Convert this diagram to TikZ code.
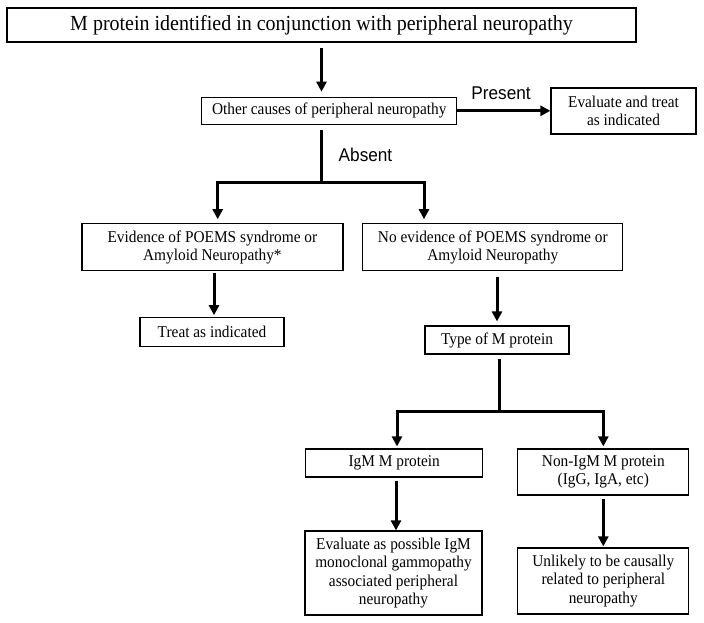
\documentclass[tikz,border=0pt]{standalone}
\usepackage{fontspec}
\setmainfont[FakeStretch=0.93]{Liberation Serif}
\setsansfont[FakeStretch=0.93]{Liberation Sans}
\usetikzlibrary{arrows.meta}
\tikzset{
	box/.style={draw,line width=1.2pt,inner sep=0pt,align=center,font=\fontsize{16.5}{18.3}\selectfont},
	trunk/.style={line width=3pt},
	arr/.style={trunk,-{Triangle[length=10pt,width=10pt]}},
	lbl/.style={inner sep=0pt,font=\sffamily\fontsize{18.5}{20}\selectfont}
}
\begin{document}
\begin{tikzpicture}[x=1pt,y=-1pt]
	\useasboundingbox (0,0) rectangle (704,623);
	\node[box,minimum width=629,minimum height=34,font=\fontsize{21.5}{24}\selectfont] (mprot) at (321.5,25) {M protein identified in conjunction with peripheral neuropathy};
	\node[box,minimum width=255,minimum height=27] (other) at (329.3,110.8) {Other causes of peripheral neuropathy};
	\node[box,minimum width=145,minimum height=46] (evaltreat) at (623.5,111) {Evaluate and treat\\as indicated};
	\node[box,minimum width=261,minimum height=47] (poems) at (212.4,247.3) {Evidence of POEMS syndrome or\\Amyloid Neuropathy*};
	\node[box,minimum width=260,minimum height=47] (noevid) at (492.8,247.3) {No evidence of POEMS syndrome or\\Amyloid Neuropathy};
	\node[box,minimum width=144,minimum height=29] (treat) at (212,332.3) {Treat as indicated};
	\node[box,minimum width=144,minimum height=28] (type) at (497,340) {Type of M protein};
	\node[box,minimum width=177,minimum height=28] (igm) at (394.2,463) {IgM M protein};
	\node[box,minimum width=171,minimum height=46] (nonigm) at (603.3,472) {Non-IgM M protein\\(IgG, IgA, etc)};
	\node[box,minimum width=177,minimum height=84] (evaligm) at (393.5,573) {Evaluate as possible IgM\\monoclonal gammopathy\\associated peripheral\\neuropathy};
	\node[box,minimum width=171,minimum height=66] (unlikely) at (603.3,581) {Unlikely to be causally\\related to peripheral\\neuropathy};
	\coordinate (split1) at (321.5,182);
	\coordinate (split2) at (499,411);
	\draw[arr,shorten <=5pt,shorten >=5pt] (mprot.south) -- (mprot.south |- other.north);
	\draw[arr] (other.east) -- (other.east -| evaltreat.west) node[lbl,pos=0.47,above=10pt] (present) {Present};
	\draw[trunk] ([yshift=-5pt]other.south -| split1) -- (split1);
	\node[lbl] (absent) at (365.5,155) {Absent};
	\draw[arr,shorten >=4pt] (split1) -| ([xshift=5.3pt]poems.north);
	\draw[arr,shorten >=4pt] (split1) -| ([xshift=-68.8pt]noevid.north);
	\draw[arr,shorten <=2pt,shorten >=2pt] ([xshift=1.6pt]poems.south) -- ([xshift=2pt]treat.north);
	\draw[arr,shorten <=6pt,shorten >=4pt] (type.north |- noevid.south) -- (type.north);
	\draw[trunk] ([yshift=-4pt]type.south -| split2) -- (split2);
	\draw[arr,shorten >=2pt] (split2) -| ([xshift=2.8pt]igm.north);
	\draw[arr,shorten >=2pt] (split2) -| (nonigm.north);
	\draw[arr,shorten <=3pt] ([xshift=1.8pt]igm.south) -- ([xshift=2.5pt]evaligm.north);
	\draw[arr,shorten <=3pt,shorten >=1pt] (nonigm.south) -- (unlikely.north);
\end{tikzpicture}
\end{document}
